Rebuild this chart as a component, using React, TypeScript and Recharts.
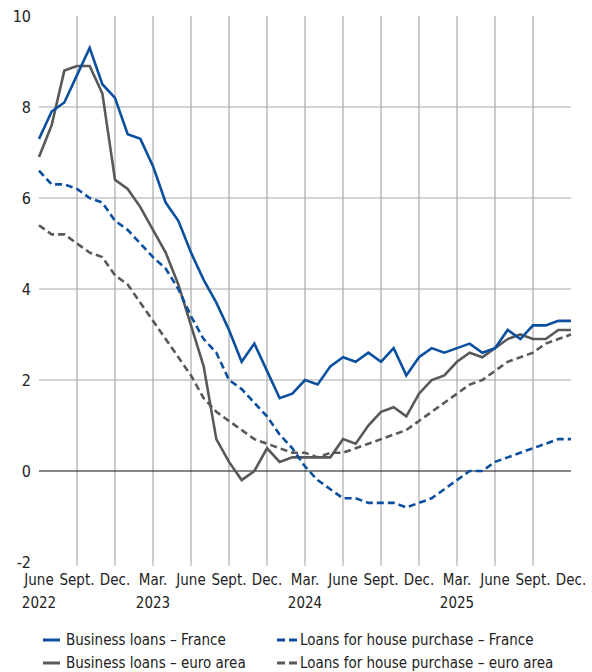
import React from "react";
import {
  LineChart,
  Line,
  XAxis,
  YAxis,
  CartesianGrid,
  ReferenceLine,
} from "recharts";

const months = [
  "2022-06", "2022-07", "2022-08", "2022-09", "2022-10", "2022-11", "2022-12",
  "2023-01", "2023-02", "2023-03", "2023-04", "2023-05", "2023-06", "2023-07",
  "2023-08", "2023-09", "2023-10", "2023-11", "2023-12", "2024-01", "2024-02",
  "2024-03", "2024-04", "2024-05", "2024-06", "2024-07", "2024-08", "2024-09",
  "2024-10", "2024-11", "2024-12", "2025-01", "2025-02", "2025-03", "2025-04",
  "2025-05", "2025-06", "2025-07", "2025-08", "2025-09", "2025-10", "2025-11",
  "2025-12",
];

const businessFrance = [
  7.3, 7.9, 8.1, 8.7, 9.3, 8.5, 8.2, 7.4, 7.3, 6.7,
  5.9, 5.5, 4.8, 4.2, 3.7, 3.1, 2.4, 2.8, 2.2, 1.6,
  1.7, 2.0, 1.9, 2.3, 2.5, 2.4, 2.6, 2.4, 2.7, 2.1,
  2.5, 2.7, 2.6, 2.7, 2.8, 2.6, 2.7, 3.1, 2.9, 3.2,
  3.2, 3.3, 3.3,
];

const businessEuro = [
  6.9, 7.6, 8.8, 8.9, 8.9, 8.3, 6.4, 6.2, 5.8, 5.3,
  4.8, 4.1, 3.2, 2.3, 0.7, 0.2, -0.2, 0.0, 0.5, 0.2,
  0.3, 0.3, 0.3, 0.3, 0.7, 0.6, 1.0, 1.3, 1.4, 1.2,
  1.7, 2.0, 2.1, 2.4, 2.6, 2.5, 2.7, 2.9, 3.0, 2.9,
  2.9, 3.1, 3.1,
];

const houseFrance = [
  6.6, 6.3, 6.3, 6.2, 6.0, 5.9, 5.5, 5.3, 5.0, 4.7,
  4.45, 4.0, 3.4, 2.9, 2.6, 2.0, 1.8, 1.5, 1.2, 0.8,
  0.5, 0.1, -0.2, -0.4, -0.6, -0.6, -0.7, -0.7, -0.7, -0.8,
  -0.7, -0.6, -0.4, -0.2, 0.0, 0.0, 0.2, 0.3, 0.4, 0.5,
  0.6, 0.7, 0.7,
];

const houseEuro = [
  5.4, 5.2, 5.2, 5.0, 4.8, 4.7, 4.3, 4.1, 3.7, 3.3,
  2.9, 2.5, 2.1, 1.6, 1.3, 1.1, 0.9, 0.7, 0.6, 0.5,
  0.4, 0.4, 0.3, 0.4, 0.4, 0.5, 0.6, 0.7, 0.8, 0.9,
  1.1, 1.3, 1.5, 1.7, 1.9, 2.0, 2.2, 2.4, 2.5, 2.6,
  2.8, 2.9, 3.0,
];

const quarterTicks = [
  "2022-06", "2022-09", "2022-12", "2023-03", "2023-06", "2023-09", "2023-12",
  "2024-03", "2024-06", "2024-09", "2024-12", "2025-03", "2025-06", "2025-09",
  "2025-12",
];
const quarterLabels = [
  "June", "Sept.", "Dec.", "Mar.", "June", "Sept.", "Dec.",
  "Mar.", "June", "Sept.", "Dec.", "Mar.", "June", "Sept.", "Dec.",
];
const yearLabels = [
  "2022", "", "", "2023", "", "", "", "2024", "", "", "", "2025", "", "", "",
];
const yTicks = [-2, 0, 2, 4, 6, 8, 10];
const gridValues = [2, 4, 6, 8];
const innerTicks = quarterTicks.slice(1, -1);

const BLUE = "#0b4f9f";
const GREY = "#595959";
const FONT = "'Liberation Sans Narrow', 'DejaVu Sans Condensed', Roboto, sans-serif";

const data = months.map((m, i) => ({
  month: m,
  businessFrance: businessFrance[i],
  businessEuro: businessEuro[i],
  houseFrance: houseFrance[i],
  houseEuro: houseEuro[i],
}));

const QuarterTick = (props: any) => {
  const { x, y, payload } = props;
  const idx = quarterTicks.indexOf(payload.value);
  const inner = idx > 0 && idx < quarterTicks.length - 1;
  return (
    <g>
      {inner && <line x1={x} x2={x} y1={y} y2={y + 4} stroke="#a8a8a8" />}
      <text x={x} y={y + 23} textAnchor="middle" fill="#222" fontSize={15} fontFamily={FONT}>
        {quarterLabels[idx]}
      </text>
      {yearLabels[idx] && (
        <text x={x} y={y + 46} textAnchor="middle" fill="#222" fontSize={15} fontFamily={FONT}>
          {yearLabels[idx]}
        </text>
      )}
    </g>
  );
};

const legendItems = [
  { label: "Business loans – France", color: BLUE, dashed: false, left: 43, top: 630 },
  { label: "Loans for house purchase – France", color: BLUE, dashed: true, left: 277, top: 630 },
  { label: "Business loans – euro area", color: GREY, dashed: false, left: 43, top: 653 },
  { label: "Loans for house purchase – euro area", color: GREY, dashed: true, left: 277, top: 653 },
];

const App = () => {
  return (
    <div style={{ position: "absolute", left: 0, top: 0, width: 592, height: 672, background: "#fff", fontFamily: FONT }}>
      <LineChart width={592} height={615} data={data} margin={{ top: 16, right: 21, bottom: 0, left: 0 }}>
        <CartesianGrid vertical={false} horizontalValues={gridValues} stroke="#c6c6c6" strokeWidth={1.3} />
        <CartesianGrid horizontal={false} verticalValues={innerTicks} stroke="#ababab" strokeWidth={1.2} />
        <XAxis
          dataKey="month"
          ticks={quarterTicks}
          interval={0}
          axisLine={false}
          tickLine={false}
          tickSize={0}
          tickMargin={0}
          height={53}
          tick={<QuarterTick />}
        />
        <YAxis
          width={39}
          domain={[-2, 10]}
          ticks={yTicks}
          axisLine={false}
          tickLine={false}
          tick={{ fill: "#222", fontSize: 16, fontFamily: FONT }}
        />
        <ReferenceLine y={0} stroke="#111" strokeWidth={1.2} />
        <Line dataKey="houseEuro" stroke={GREY} strokeWidth={2.6} strokeDasharray="7 4" dot={false} isAnimationActive={false} />
        <Line dataKey="businessEuro" stroke={GREY} strokeWidth={2.6} dot={false} isAnimationActive={false} />
        <Line dataKey="houseFrance" stroke={BLUE} strokeWidth={2.6} strokeDasharray="7 4" dot={false} isAnimationActive={false} />
        <Line dataKey="businessFrance" stroke={BLUE} strokeWidth={2.6} dot={false} isAnimationActive={false} />
      </LineChart>
      {legendItems.map((item) => (
        <div
          key={item.label}
          style={{ position: "absolute", left: item.left, top: item.top, height: 20, display: "flex", alignItems: "center", fontSize: 15, color: "#222", whiteSpace: "nowrap" }}
        >
          <svg width={23} height={20}>
            {item.dashed ? (
              <line x1={0} x2={20} y1={10} y2={10} stroke={item.color} strokeWidth={3} strokeDasharray="8 4" />
            ) : (
              <line x1={0} x2={17} y1={10} y2={10} stroke={item.color} strokeWidth={3} />
            )}
          </svg>
          <span>{item.label}</span>
        </div>
      ))}
    </div>
  );
};

export default App;
